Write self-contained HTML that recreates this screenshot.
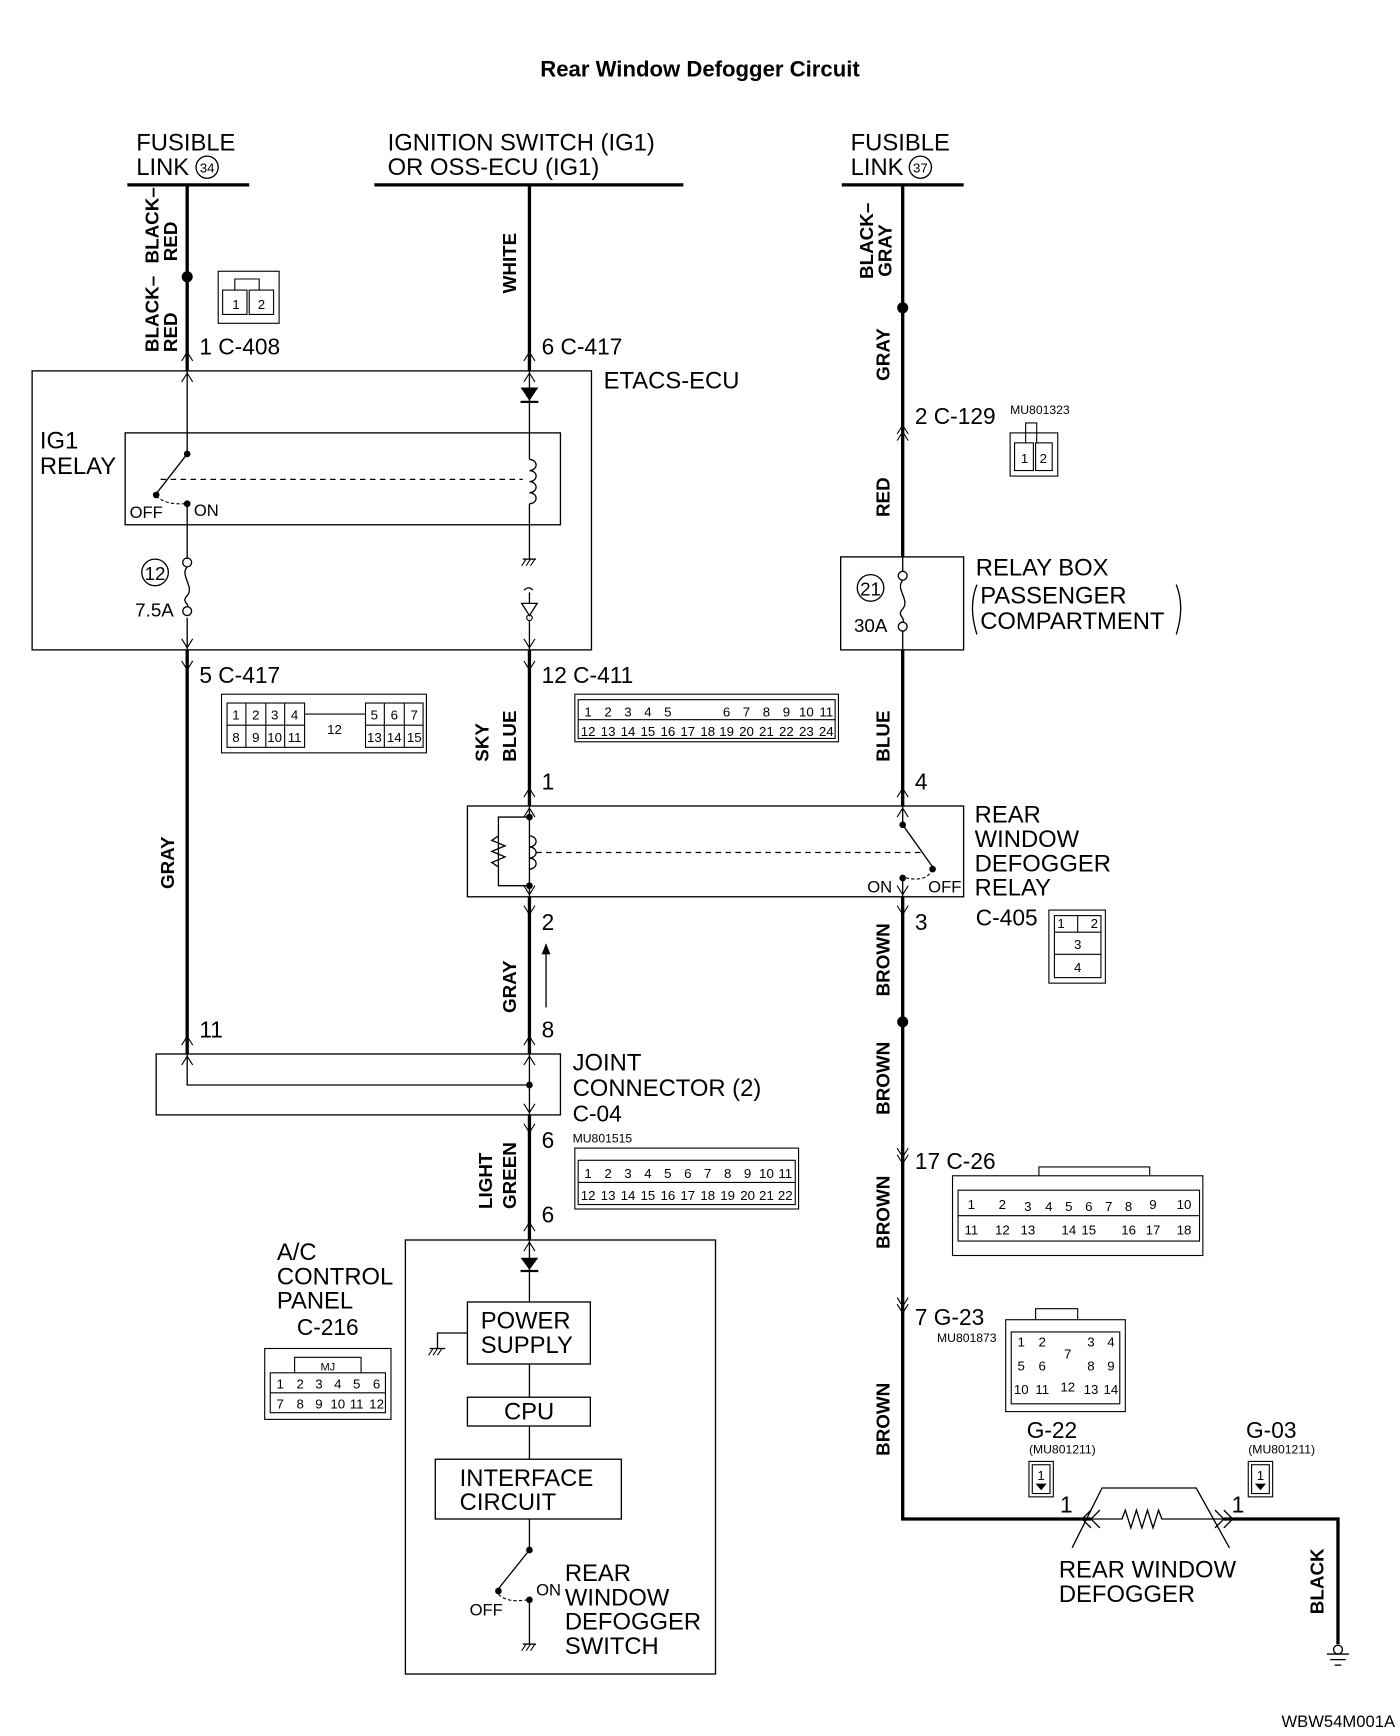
<!DOCTYPE html>
<html><head><meta charset="utf-8"><style>
html,body{margin:0;padding:0;background:#fff;}
svg{display:block;}
text{font-family:"Liberation Sans Narrow","Liberation Sans",sans-serif;fill:#000;}
.t{font-size:21.5px;}
.s{font-size:12px;}
.m{font-size:20.5px;}
</style></head><body>
<svg width="1400" height="1736" viewBox="0 0 1264 1568" preserveAspectRatio="none" xmlns="http://www.w3.org/2000/svg">
<g fill="none" stroke="#000">
<line x1="115" y1="167" x2="225" y2="167" stroke-width="3"/>
<line x1="338" y1="167" x2="617" y2="167" stroke-width="3"/>
<line x1="760" y1="167" x2="870" y2="167" stroke-width="3"/>
<line x1="169" y1="167" x2="169" y2="335" stroke-width="3"/>
<line x1="169" y1="335" x2="169" y2="410" stroke-width="1.2"/>
<line x1="169" y1="410" x2="141" y2="446" stroke-width="1.2"/>
<line x1="169" y1="455" x2="169" y2="505" stroke-width="1.2"/>
<line x1="169" y1="558" x2="169" y2="587" stroke-width="1.2"/>
<line x1="169" y1="587" x2="169" y2="952" stroke-width="3"/>
<polyline points="169,952 169,980 478,980" stroke-width="1.2"/>
<circle cx="169" cy="508" r="4" stroke-width="1.2"/>
<circle cx="169" cy="552" r="4" stroke-width="1.2"/>
<path d="M169,512 C162,520 176,530 169,538 C163,544 172,546 169,548" stroke-width="1.2"/>
<line x1="478" y1="167" x2="478" y2="335" stroke-width="3"/>
<line x1="478" y1="335" x2="478" y2="415" stroke-width="1.2"/>
<path d="M478,415 a6,5 0 1 1 0,10 a6,5 0 1 1 0,10 a6,5 0 1 1 0,10 a6,5 0 1 1 0,10" stroke-width="1.2"/>
<line x1="478" y1="455" x2="478" y2="505" stroke-width="1.2"/>
<line x1="472" y1="505" x2="484" y2="505" stroke-width="1.2"/>
<line x1="471" y1="511" x2="475" y2="505" stroke-width="1"/><line x1="475" y1="511" x2="479" y2="505" stroke-width="1"/><line x1="479" y1="511" x2="483" y2="505" stroke-width="1"/>
<path d="M473,533 q5,-4 8,0" stroke-width="1.2"/>
<line x1="478" y1="535" x2="478" y2="545" stroke-width="1.2"/>
<path d="M471,545 L485,545 L478,556 Z" stroke-width="1.2"/>
<circle cx="478" cy="558" r="2.5" stroke-width="1"/>
<line x1="478" y1="560" x2="478" y2="587" stroke-width="1.2"/>
<line x1="478" y1="587" x2="478" y2="728" stroke-width="3"/>
<line x1="478" y1="728" x2="478" y2="810" stroke-width="1.2"/>
<path d="M478,755 a6,5 0 1 1 0,10 a6,5 0 1 1 0,10 a6,5 0 1 1 0,10" stroke-width="1.2"/>
<polyline points="478,738 450,738 450,800 478,800" stroke-width="1.2"/>
<path d="M450,755 l-6,4 l12,5 l-12,5 l12,5 l-12,5 l6,4" stroke-width="1.2"/>
<line x1="478" y1="810" x2="478" y2="952" stroke-width="3"/>
<line x1="478" y1="952" x2="478" y2="1007" stroke-width="1.2"/>
<line x1="478" y1="1007" x2="478" y2="1120" stroke-width="3"/>
<line x1="478" y1="1120" x2="478" y2="1176" stroke-width="1.2"/>
<line x1="478" y1="1232" x2="478" y2="1262" stroke-width="1.2"/>
<line x1="478" y1="1288" x2="478" y2="1318" stroke-width="1.2"/>
<line x1="478" y1="1372" x2="478" y2="1400" stroke-width="1.2"/>
<line x1="478" y1="1400" x2="450" y2="1435" stroke-width="1.2"/>
<line x1="478" y1="1445" x2="478" y2="1485" stroke-width="1.2"/>
<line x1="472" y1="1485" x2="484" y2="1485" stroke-width="1.2"/>
<line x1="471" y1="1491" x2="475" y2="1485" stroke-width="1"/><line x1="475" y1="1491" x2="479" y2="1485" stroke-width="1"/><line x1="479" y1="1491" x2="483" y2="1485" stroke-width="1"/>
<path d="M450,1440 q8,8 26,5" stroke-dasharray="3,2" stroke-width="1"/>
<polyline points="422,1204 395,1204 395,1218" stroke-width="1.2"/>
<line x1="388" y1="1218" x2="402" y2="1218" stroke-width="1.2"/>
<line x1="387" y1="1224" x2="391" y2="1218" stroke-width="1"/><line x1="391" y1="1224" x2="395" y2="1218" stroke-width="1"/><line x1="395" y1="1224" x2="399" y2="1218" stroke-width="1"/>
<line x1="493" y1="853" x2="493" y2="910" stroke-width="1.2"/>
<line x1="815" y1="167" x2="815" y2="503" stroke-width="3"/>
<line x1="815" y1="503" x2="815" y2="516" stroke-width="1.2"/>
<circle cx="815" cy="520" r="4" stroke-width="1.2"/>
<circle cx="815" cy="566" r="4" stroke-width="1.2"/>
<path d="M815,524 C808,532 822,542 815,550 C809,556 818,558 815,562" stroke-width="1.2"/>
<line x1="815" y1="570" x2="815" y2="587" stroke-width="1.2"/>
<line x1="815" y1="587" x2="815" y2="728" stroke-width="3"/>
<line x1="815" y1="728" x2="815" y2="745" stroke-width="1.2"/>
<line x1="815" y1="745" x2="842" y2="783" stroke-width="1.2"/>
<line x1="815" y1="793" x2="815" y2="810" stroke-width="1.2"/>
<path d="M842,785 q-5,12 -24,8" stroke-dasharray="3,2" stroke-width="1"/>
<polyline points="815,810 815,1372 985,1372" stroke-width="3"/>
<polyline points="1105,1372 1208,1372 1208,1485" stroke-width="3"/>
<path d="M968,1398 L995,1344 L1080,1344 L1110,1398" stroke-width="1.2"/>
<path d="M985,1372 L1013,1372 l3,-8 l5,16 l5,-16 l5,16 l5,-16 l5,16 l5,-16 l3,8 L1105,1372" stroke-width="1.2"/>
<path d="M985,1364 l-8,8 l8,8 M993,1364 l-8,8 l8,8 M1097,1364 l8,8 l-8,8 M1105,1364 l8,8 l-8,8" stroke-width="1.2"/>
<circle cx="1208" cy="1490" r="4" stroke-width="1.2"/>
<line x1="1198" y1="1494" x2="1218" y2="1494" stroke-width="1.2"/>
<line x1="1201" y1="1499" x2="1215" y2="1499" stroke-width="1.2"/>
<line x1="1205" y1="1504" x2="1211" y2="1504" stroke-width="1.2"/>
<line x1="145" y1="433" x2="472" y2="433" stroke-dasharray="5,4" stroke-width="1.2"/>
<line x1="484" y1="770" x2="835" y2="770" stroke-dasharray="5,4" stroke-width="1.2"/>
<path d="M141,448 q8,8 26,7" stroke-dasharray="3,2" stroke-width="1"/>
<rect x="29" y="335" width="505" height="252" stroke-width="1.2"/>
<rect x="113" y="391" width="393" height="83" stroke-width="1.2"/>
<rect x="759" y="503" width="111" height="84" stroke-width="1.2"/>
<rect x="422" y="728" width="448" height="82" stroke-width="1.2"/>
<rect x="141" y="952" width="365" height="55" stroke-width="1.2"/>
<rect x="366" y="1120" width="280" height="392" stroke-width="1.2"/>
<rect x="422" y="1176" width="111" height="56" stroke-width="1.2"/>
<rect x="422" y="1262" width="111" height="26" stroke-width="1.2"/>
<rect x="393" y="1318" width="168" height="54" stroke-width="1.2"/>
<path d="M164,345 l5,-8 l5,8 M473,345 l5,-8 l5,8 M810,738 l5,-8 l5,8 M473,738 l5,-8 l5,8 M164,962 l5,-8 l5,8 M473,962 l5,-8 l5,8 M473,1130 l5,-8 l5,8" stroke-width="1"/>
<path d="M164,577 l5,8 l5,-8 M473,577 l5,8 l5,-8 M473,800 l5,8 l5,-8 M810,800 l5,8 l5,-8 M473,997 l5,8 l5,-8" stroke-width="1"/>
<path d="M164,326 l5,-8 l5,8 M473,326 l5,-8 l5,8 M164,597 l5,8 l5,-8 M473,597 l5,8 l5,-8 M810,720 l5,-8 l5,8 M473,720 l5,-8 l5,8 M473,818 l5,8 l5,-8 M810,818 l5,8 l5,-8 M164,944 l5,-8 l5,8 M473,944 l5,-8 l5,8 M473,1015 l5,8 l5,-8 M473,1112 l5,-8 l5,8" stroke-width="1"/>
<path d="M810,392 l5,-8 l5,8 M810,398 l5,-8 l5,8 M810,1037 l5,8 l5,-8 M810,1043 l5,8 l5,-8 M810,1172 l5,8 l5,-8 M810,1178 l5,8 l5,-8" stroke-width="1"/>
</g>
<g fill="#000">
<circle cx="169" cy="250" r="5"/><circle cx="815" cy="278" r="5"/><circle cx="815" cy="923" r="5"/>
<circle cx="169" cy="410" r="3"/><circle cx="141" cy="447" r="3"/><circle cx="169" cy="455" r="3"/>
<circle cx="478" cy="738" r="3"/><circle cx="478" cy="800" r="3"/><circle cx="815" cy="745" r="3"/><circle cx="842" cy="785" r="3"/><circle cx="815" cy="793" r="3"/>
<circle cx="478" cy="980" r="3"/>
<circle cx="478" cy="1400" r="3"/><circle cx="450" cy="1437" r="3"/><circle cx="478" cy="1445" r="3"/>
<path d="M470,350 L486,350 L478,362 Z"/><rect x="470" y="362" width="16" height="2"/>
<path d="M470,1136 L486,1136 L478,1147 Z"/><rect x="470" y="1147" width="16" height="2"/>
<path d="M489,862 L493,852 L497,862 Z"/>
</g>
<text x="632" y="69" text-anchor="middle" style="font-family:'Liberation Sans',sans-serif;font-weight:bold;font-size:20px">Rear Window Defogger Circuit</text>
<text class="t" x="123" y="136">FUSIBLE</text><text class="t" x="123" y="158">LINK</text>
<circle cx="187" cy="151" r="10" fill="none" stroke="#000" stroke-width="1.2"/><text class="s" x="187" y="156" text-anchor="middle">34</text>
<text class="t" x="350" y="136">IGNITION SWITCH (IG1)</text><text class="t" x="350" y="158">OR OSS-ECU (IG1)</text>
<text class="t" x="768" y="136">FUSIBLE</text><text class="t" x="768" y="158">LINK</text>
<circle cx="831" cy="151" r="10" fill="none" stroke="#000" stroke-width="1.2"/><text class="s" x="831" y="156" text-anchor="middle">37</text>
<g style="font-family:'Liberation Sans',sans-serif;font-weight:bold;font-size:17px">
<text transform="translate(143,238) rotate(-90)">BLACK–</text><text transform="translate(160,236) rotate(-90)">RED</text>
<text transform="translate(143,318) rotate(-90)">BLACK–</text><text transform="translate(160,318) rotate(-90)">RED</text>
<text transform="translate(466,265) rotate(-90)">WHITE</text>
<text transform="translate(788,252) rotate(-90)">BLACK–</text><text transform="translate(805,250) rotate(-90)">GRAY</text>
<text transform="translate(803,344) rotate(-90)">GRAY</text>
<text transform="translate(803,467) rotate(-90)">RED</text>
<text transform="translate(441,688) rotate(-90)">SKY</text><text transform="translate(466,688) rotate(-90)">BLUE</text>
<text transform="translate(803,688) rotate(-90)">BLUE</text>
<text transform="translate(157,803) rotate(-90)">GRAY</text>
<text transform="translate(466,915) rotate(-90)">GRAY</text>
<text transform="translate(803,900) rotate(-90)">BROWN</text>
<text transform="translate(803,1007) rotate(-90)">BROWN</text>
<text transform="translate(803,1128) rotate(-90)">BROWN</text>
<text transform="translate(803,1315) rotate(-90)">BROWN</text>
<text transform="translate(444,1092) rotate(-90)">LIGHT</text><text transform="translate(466,1092) rotate(-90)">GREEN</text>
<text transform="translate(1195,1458) rotate(-90)">BLACK</text>
</g>
<text class="m" x="180" y="320">1 C-408</text>
<text class="m" x="489" y="320">6 C-417</text>
<text class="t" x="545" y="351">ETACS-ECU</text>
<text class="t" x="36" y="405">IG1</text><text class="t" x="36" y="428">RELAY</text>
<text class="s" x="117" y="468" style="font-size:15px">OFF</text><text class="s" x="175" y="466" style="font-size:15px">ON</text>
<circle cx="140" cy="517" r="12" fill="none" stroke="#000" stroke-width="1.2"/><text class="m" x="140" y="524" text-anchor="middle" style="font-size:17px">12</text>
<text class="m" x="122" y="557" style="font-size:17px">7.5A</text>
<text class="m" x="826" y="383">2 C-129</text>
<text class="s" x="912" y="374" style="font-size:11px">MU801323</text>
<circle cx="786" cy="531" r="12" fill="none" stroke="#000" stroke-width="1.2"/><text class="m" x="786" y="538" text-anchor="middle" style="font-size:17px">21</text>
<text class="m" x="771" y="571" style="font-size:17px">30A</text>
<text class="t" x="881" y="520">RELAY BOX</text>
<text class="t" x="885" y="545">PASSENGER</text><text class="t" x="885" y="568">COMPARTMENT</text>
<path d="M882,528 q-8,20 0,45 M1062,528 q8,20 0,45" fill="none" stroke="#000" stroke-width="1.2"/>
<text class="m" x="180" y="617">5 C-417</text>
<text class="m" x="489" y="617">12 C-411</text>
<text class="m" x="489" y="713">1</text>
<text class="m" x="826" y="713">4</text>
<text class="t" x="880" y="743">REAR</text><text class="t" x="880" y="765">WINDOW</text><text class="t" x="880" y="787">DEFOGGER</text><text class="t" x="880" y="809">RELAY</text>
<text class="s" x="783" y="806" style="font-size:15px">ON</text><text class="s" x="838" y="806" style="font-size:15px">OFF</text>
<text class="m" x="489" y="840">2</text>
<text class="m" x="826" y="840">3</text>
<text class="m" x="881" y="836">C-405</text>
<text class="m" x="180" y="937">11</text>
<text class="m" x="489" y="937">8</text>
<text class="t" x="517" y="967">JOINT</text><text class="t" x="517" y="990">CONNECTOR (2)</text>
<text class="m" x="517" y="1013">C-04</text>
<text class="s" x="517" y="1032" style="font-size:11px">MU801515</text>
<text class="m" x="489" y="1037">6</text>
<text class="m" x="489" y="1104">6</text>
<text class="m" x="826" y="1056">17 C-26</text>
<text class="m" x="826" y="1197">7 G-23</text>
<text class="s" x="846" y="1212" style="font-size:11px">MU801873</text>
<text class="t" x="250" y="1138">A/C</text><text class="t" x="250" y="1160">CONTROL</text><text class="t" x="250" y="1182">PANEL</text>
<text class="m" x="268" y="1206">C-216</text>
<text class="t" x="434" y="1200">POWER</text><text class="t" x="434" y="1222">SUPPLY</text>
<text class="t" x="455" y="1282">CPU</text>
<text class="t" x="415" y="1342">INTERFACE</text><text class="t" x="415" y="1364">CIRCUIT</text>
<text class="s" x="424" y="1459" style="font-size:15px">OFF</text><text class="s" x="484" y="1441" style="font-size:15px">ON</text>
<text class="t" x="510" y="1428">REAR</text><text class="t" x="510" y="1450">WINDOW</text><text class="t" x="510" y="1472">DEFOGGER</text><text class="t" x="510" y="1494">SWITCH</text>
<text class="m" x="927" y="1299">G-22</text><text class="s" x="929" y="1313" style="font-size:11px">(MU801211)</text>
<text class="m" x="1125" y="1299">G-03</text><text class="s" x="1127" y="1313" style="font-size:11px">(MU801211)</text>
<text class="m" x="957" y="1366">1</text><text class="m" x="1112" y="1366">1</text>
<text class="t" x="956" y="1425">REAR WINDOW</text><text class="t" x="956" y="1447">DEFOGGER</text>
<text x="1157" y="1560" style="font-size:15px">WBW54M001A</text>
<g fill="none" stroke="#000" stroke-width="1">
<rect x="197" y="245" width="55" height="47"/><rect x="201" y="262" width="22" height="22"/><rect x="225" y="262" width="22" height="22"/><path d="M212,262 v-10 h22 v10"/>
<rect x="912" y="391" width="43" height="39"/><rect x="916" y="400" width="17" height="25"/><rect x="935" y="400" width="15" height="25"/><path d="M926,400 v-18 h10 v18"/>
<rect x="200" y="627" width="185" height="53"/><rect x="205" y="635" width="70" height="40"/><rect x="330" y="635" width="52" height="40"/>
<path d="M205,655 h70 M222,635 v40 M240,635 v40 M257,635 v40 M330,655 h52 M347,635 v40 M365,635 v40 M275,645 h55"/>
<rect x="519" y="627" width="238" height="43"/><path d="M522,650 h232 M522,632 h232 v35 h-232 z"/>
<rect x="947" y="822" width="51" height="66"/><rect x="952" y="827" width="42" height="56"/><path d="M952,842 h42 M952,862 h42 M973,827 v15"/>
<rect x="519" y="1037" width="202" height="55"/><rect x="522" y="1048" width="196" height="40"/><path d="M522,1068 h196"/>
<rect x="860" y="1062" width="226" height="72"/><path d="M865,1075 h218 v46 h-218 z M865,1098 h218 M938,1062 v-8 h100 v8"/>
<rect x="908" y="1192" width="108" height="83"/><path d="M913,1203 h98 v65 h-98 z M935,1192 v-10 h38 v10"/>
<rect x="239" y="1218" width="114" height="64"/><path d="M244,1240 h104 v36 h-104 z M244,1258 h104 M266,1240 v-14 h60 v14"/>
<rect x="929" y="1320" width="22" height="32"/><rect x="932" y="1323" width="16" height="26"/>
<rect x="1127" y="1320" width="22" height="32"/><rect x="1130" y="1323" width="16" height="26"/>
</g>
<g class="s" style="font-size:12px" text-anchor="middle">
<text x="213" y="279">1</text><text x="236" y="279">2</text>
<text x="925" y="418">1</text><text x="942" y="418">2</text>
<text x="213" y="650">1</text><text x="231" y="650">2</text><text x="248" y="650">3</text><text x="266" y="650">4</text><text x="338" y="650">5</text><text x="356" y="650">6</text><text x="374" y="650">7</text>
<text x="213" y="670">8</text><text x="231" y="670">9</text><text x="248" y="670">10</text><text x="266" y="670">11</text><text x="302" y="663">12</text><text x="338" y="670">13</text><text x="356" y="670">14</text><text x="374" y="670">15</text>
<text x="531" y="647">1</text><text x="549" y="647">2</text><text x="567" y="647">3</text><text x="585" y="647">4</text><text x="603" y="647">5</text><text x="656" y="647">6</text><text x="674" y="647">7</text><text x="692" y="647">8</text><text x="710" y="647">9</text><text x="728" y="647">10</text><text x="746" y="647">11</text>
<text x="531" y="665">12</text><text x="549" y="665">13</text><text x="567" y="665">14</text><text x="585" y="665">15</text><text x="603" y="665">16</text><text x="621" y="665">17</text><text x="639" y="665">18</text><text x="656" y="665">19</text><text x="674" y="665">20</text><text x="692" y="665">21</text><text x="710" y="665">22</text><text x="728" y="665">23</text><text x="746" y="665">24</text>
<text x="958" y="838">1</text><text x="988" y="838">2</text><text x="973" y="857">3</text><text x="973" y="878">4</text>
<text x="531" y="1064">1</text><text x="549" y="1064">2</text><text x="567" y="1064">3</text><text x="585" y="1064">4</text><text x="603" y="1064">5</text><text x="621" y="1064">6</text><text x="639" y="1064">7</text><text x="657" y="1064">8</text><text x="675" y="1064">9</text><text x="692" y="1064">10</text><text x="709" y="1064">11</text>
<text x="531" y="1084">12</text><text x="549" y="1084">13</text><text x="567" y="1084">14</text><text x="585" y="1084">15</text><text x="603" y="1084">16</text><text x="621" y="1084">17</text><text x="639" y="1084">18</text><text x="657" y="1084">19</text><text x="675" y="1084">20</text><text x="692" y="1084">21</text><text x="709" y="1084">22</text>
<text x="877" y="1092">1</text><text x="905" y="1092">2</text><text x="928" y="1094">3</text><text x="947" y="1094">4</text><text x="965" y="1094">5</text><text x="983" y="1094">6</text><text x="1001" y="1094">7</text><text x="1019" y="1094">8</text><text x="1041" y="1092">9</text><text x="1069" y="1092">10</text>
<text x="877" y="1115">11</text><text x="905" y="1115">12</text><text x="928" y="1115">13</text><text x="965" y="1115">14</text><text x="983" y="1115">15</text><text x="1019" y="1115">16</text><text x="1041" y="1115">17</text><text x="1069" y="1115">18</text>
<text x="922" y="1216">1</text><text x="941" y="1216">2</text><text x="985" y="1216">3</text><text x="1003" y="1216">4</text><text x="964" y="1227">7</text>
<text x="922" y="1238">5</text><text x="941" y="1238">6</text><text x="985" y="1238">8</text><text x="1003" y="1238">9</text>
<text x="922" y="1259">10</text><text x="941" y="1259">11</text><text x="964" y="1257">12</text><text x="985" y="1259">13</text><text x="1003" y="1259">14</text>
<text x="253" y="1254">1</text><text x="271" y="1254">2</text><text x="288" y="1254">3</text><text x="305" y="1254">4</text><text x="322" y="1254">5</text><text x="340" y="1254">6</text>
<text x="253" y="1272">7</text><text x="271" y="1272">8</text><text x="288" y="1272">9</text><text x="305" y="1272">10</text><text x="322" y="1272">11</text><text x="340" y="1272">12</text>
<text x="296" y="1238" style="font-size:10px">MJ</text>
<text x="940" y="1337">1</text><text x="1138" y="1337">1</text>
</g>
<path d="M935,1340 h10 l-5,6 z M1133,1340 h10 l-5,6 z" fill="#000"/>
</svg>
</body></html>
